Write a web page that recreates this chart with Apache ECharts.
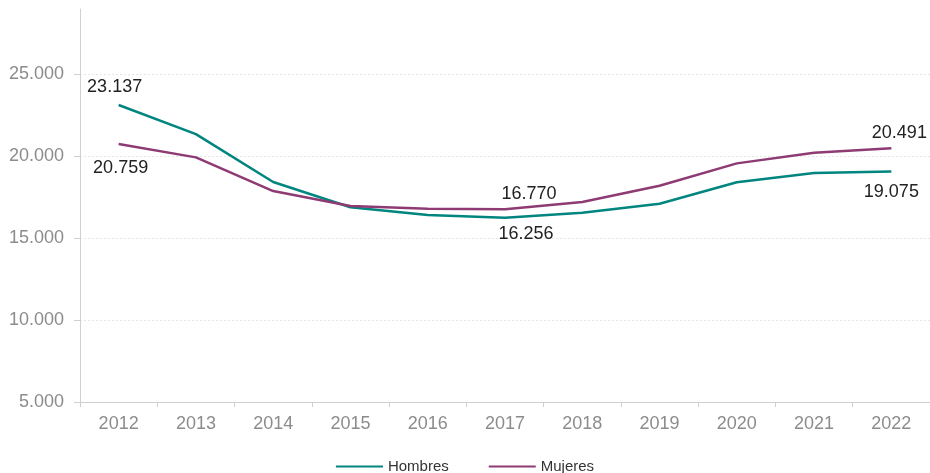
<!DOCTYPE html>
<html>
<head>
<meta charset="utf-8">
<script src="https://cdn.jsdelivr.net/npm/echarts@6/dist/echarts.min.js"></script>
<style>html,body{margin:0;padding:0;background:#fff}#c{width:930px;height:473px}</style>
</head>
<body>
<div id="c"></div>
<script>
const years = ['2012','2013','2014','2015','2016','2017','2018','2019','2020','2021','2022'];
const hombres = [23137, 21360, 18433, 16890, 16421, 16256, 16561, 17110, 18415, 18982, 19075];
const mujeres = [20759, 19939, 17884, 16970, 16805, 16770, 17213, 18207, 19573, 20220, 20491];
const hombresLabelIdx = [0, 5, 10];
const mujeresLabelIdx = [0, 5, 10];
const hombresLabelPos = ['top', 'bottom', 'bottom'];
const mujeresLabelPos = ['bottom', 'top', 'top'];
const hombresLabelOff = [[-4, 0], [21, -2], [0, 3]];
const mujeresLabelOff = [[2, 6], [24, 3], [8, 3]];

function fmt(v){ return String(Math.round(v)).replace(/\B(?=(\d{3})+(?!\d))/g, '.'); }

function mkData(vals, idx, pos, off){
  return vals.map((v,i)=>{
    const k = idx.indexOf(i);
    if(k<0) return {value:v};
    return {value:v, label:{show:true, position:pos[k], offset:off[k]}};
  });
}

const FONT = 'Liberation Sans, Arial, sans-serif';
const chart = echarts.init(document.getElementById('c'), null, {renderer:'canvas'});
chart.setOption({
  animation:false,
  grid:{left:80, top:9, right:-4, bottom:71, containLabel:false},
  legend:{
    bottom:-6, left:'center', itemWidth:47, itemHeight:10, itemGap:40,
    icon:'path://M0,4 L47,4 L47,6 L0,6 Z',
    textStyle:{fontFamily:FONT, fontSize:15, color:'#333'},
    data:['Hombres','Mujeres']
  },
  xAxis:{
    type:'category', data:years, boundaryGap:true,
    axisLine:{lineStyle:{color:'#cfcfcf', width:1}},
    axisTick:{show:true, length:5, lineStyle:{color:'#cfcfcf'}},
    axisLabel:{color:'#8c8c8c', fontSize:18, fontFamily:FONT, margin:13}
  },
  yAxis:{
    type:'value', min:5000, max:29000, interval:5000,
    axisLine:{show:true, lineStyle:{color:'#d0d0d0', width:1}},
    axisTick:{show:true, length:6, lineStyle:{color:'#d0d0d0'}},
    axisLabel:{color:'#8c8c8c', fontSize:18, fontFamily:FONT, margin:16, showMaxLabel:false,
      formatter:(v)=> v%5000===0 ? fmt(v) : ''},
    splitLine:{show:true, showMinLine:false, showMaxLine:false, lineStyle:{color:'#e6e6e6', type:[2,2], width:1}}
  },
  series:[
    {
      name:'Hombres', type:'line', symbol:'circle', symbolSize:0.01, showSymbol:true,
      data:mkData(hombres, hombresLabelIdx, hombresLabelPos, hombresLabelOff),
      lineStyle:{color:'#00857f', width:2.5}, itemStyle:{color:'#00857f'},
      label:{show:false, color:'#222', fontSize:18, fontFamily:FONT, distance:9, formatter:(p)=>fmt(p.value)}
    },
    {
      name:'Mujeres', type:'line', symbol:'circle', symbolSize:0.01, showSymbol:true,
      data:mkData(mujeres, mujeresLabelIdx, mujeresLabelPos, mujeresLabelOff),
      lineStyle:{color:'#8e3b74', width:2.5}, itemStyle:{color:'#8e3b74'},
      label:{show:false, color:'#222', fontSize:18, fontFamily:FONT, distance:9, formatter:(p)=>fmt(p.value)}
    }
  ]
});
</script>
</body>
</html>
